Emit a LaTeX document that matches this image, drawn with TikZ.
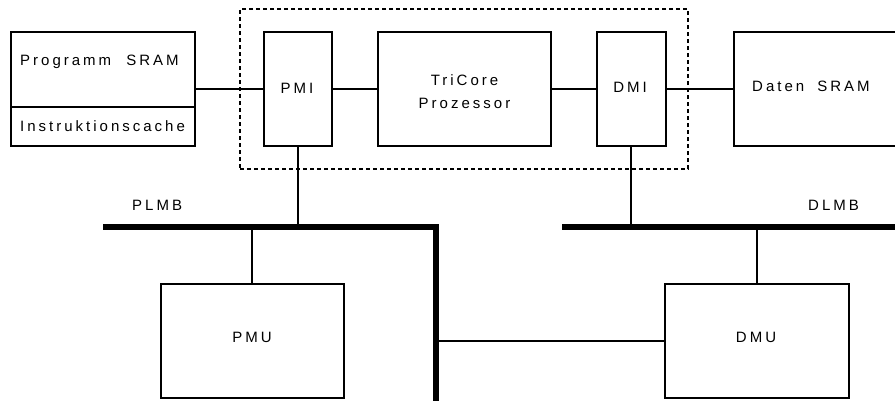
\documentclass[tikz,border=0pt]{standalone}
\usepackage{fontspec}
\setmainfont{Liberation Sans}
\newfontfamily\spaced[LetterSpace=20]{Liberation Sans}
\begin{document}
\begin{tikzpicture}[x=1pt,y=-1pt,
  blk/.style={draw,line width=2pt,rectangle,minimum width=0pt,minimum height=0pt,inner sep=0pt},
  txt/.style={font=\fontsize{15}{23}\spaced,inner sep=0pt,align=center},
  conn/.style={line width=1.4pt},
  bus/.style={line width=6.5pt,line join=miter},
  frame/.style={draw,dashed,line width=1.3pt,dash pattern=on 4pt off 3pt}]
\useasboundingbox (0,0) rectangle (895,400);
% blocks
\node[blk,minimum width=184pt,minimum height=114pt] (psram) at (103,89) {};
\coordinate (divl) at (11,107);
\coordinate (divr) at (195,107);
\draw[line width=2pt] (divl) -- (divr);
\node[blk,minimum width=68pt,minimum height=114pt] (pmi) at (298,89) {};
\node[blk,minimum width=173pt,minimum height=114pt] (tc) at (464.5,89) {};
\node[blk,minimum width=69pt,minimum height=114pt] (dmi) at (631,89) {};
\node[blk,minimum width=200pt,minimum height=114pt] (dsram) at (834,89) {};
\node[blk,minimum width=183pt,minimum height=114pt] (pmu) at (252,341) {};
\node[blk,minimum width=184pt,minimum height=114pt] (dmu) at (757,341) {};
\node[frame,minimum width=448pt,minimum height=160pt,inner sep=0pt] (cpu) at (464,89) {};
% texts
\node[txt,anchor=west] (tpsram) at (20,62) {Programm\hspace{8pt} SRAM};
\node[txt,anchor=west] (tcache) at (20,126) {Instruktionscache};
\node[txt] (tpmi) at (297,88) {PMI};
\node[txt] (ttc) at (464.5,92) {TriCore\\Prozessor};
\node[txt] (tdmi) at (630,87) {DMI};
\node[txt,anchor=west] (tdsram) at (752,86) {Daten\hspace{6pt} SRAM};
\node[txt,anchor=west] (tplmb) at (132,205) {PLMB};
\node[txt,anchor=west] (tdlmb) at (808,205) {DLMB};
\node[txt] (tpmu) at (252,337) {PMU};
\node[txt] (tdmu) at (756,337) {DMU};
% buses
\coordinate (plmbL) at (103,227);
\coordinate (plmbC) at (436,227);
\coordinate (plmbB) at (436,404);
\coordinate (dlmbL) at (562,227);
\coordinate (dlmbR) at (900,227);
\draw[bus] (plmbL) -- (plmbC) -- (plmbB);
\draw[bus] (dlmbL) -- (dlmbR);
% connectors
\draw[conn] (psram.east) -- (pmi.west);
\draw[conn] (pmi.east) -- (tc.west);
\draw[conn] (tc.east) -- (dmi.west);
\draw[conn] (dmi.east) -- (dsram.west);
\draw[conn] (pmi.south) -- (pmi.south |- plmbL);
\draw[conn] (dmi.south) -- (dmi.south |- dlmbL);
\draw[conn] (pmu.north |- plmbL) -- (pmu.north);
\draw[conn] (dmu.north |- dlmbL) -- (dmu.north);
\draw[conn] (plmbC |- dmu.west) -- (dmu.west);
\end{tikzpicture}
\end{document}
